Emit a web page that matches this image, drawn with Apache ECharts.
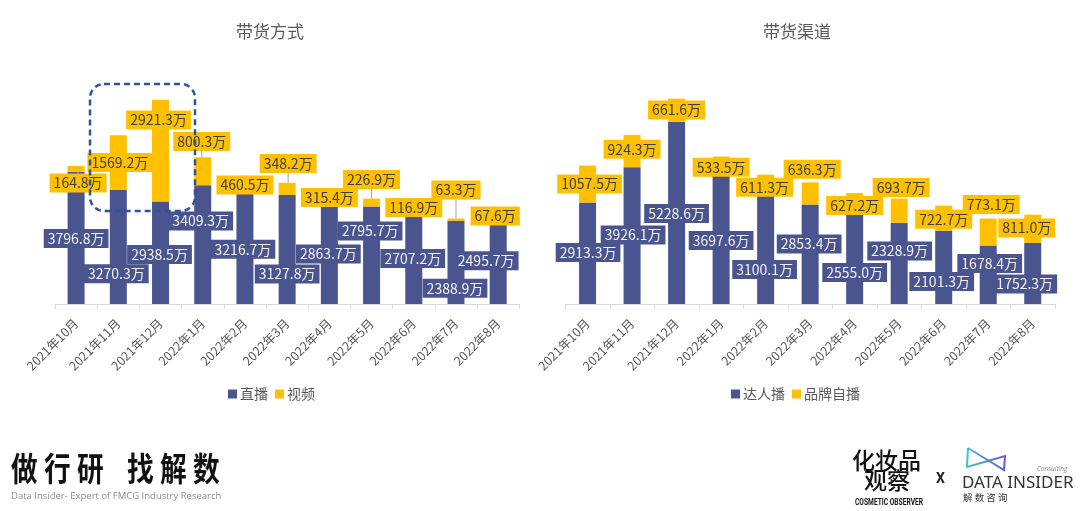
<!DOCTYPE html>
<html><head><meta charset="utf-8">
<script src="https://cdn.jsdelivr.net/npm/echarts@6/dist/echarts.min.js"></script>
<style>html,body{margin:0;padding:0;background:#fff}#c{width:1080px;height:511px}</style>
</head><body><div id="c"></div>
<script>
// ---- data ----
const months = ['2021年10月','2021年11月','2021年12月','2022年1月','2022年2月','2022年3月','2022年4月','2022年5月','2022年6月','2022年7月','2022年8月'];
const liveValues  = [3796.8,3270.3,2938.5,3409.3,3216.7,3127.8,2863.7,2795.7,2707.2,2388.9,2495.7];
const videoValues = [164.8,1569.2,2921.3,800.3,460.5,348.2,315.4,226.9,116.9,63.3,67.6];
const kolValues   = [2913.3,3926.1,5228.6,3697.6,3100.1,2853.4,2555.0,2328.9,2101.3,1678.4,1752.3];
const brandValues = [1057.5,924.3,661.6,533.5,611.3,636.3,627.2,693.7,722.7,773.1,811.0];
const leftSeriesNames = ['直播','视频'];
const rightSeriesNames = ['达人播','品牌自播'];
const titles = ['带货方式','带货渠道'];

// ---- label placement (manual, like the source chart): rise above axis in px, x shift in px ----
const labelRise = [
  [65.5,30.3,49.5,83,54.7,30,50,73,45.5,15.7,43.2],
  [121,141.5,184,162.5,119,140.5,106.5,124.5,96.5,114,88],
  [51.5,69,90.5,63.5,34.5,60,31.5,53,22.5,40.5,20],
  [120,154.7,194,136.7,116.7,134.8,98.5,116.5,84.8,99.5,76]
];
const labelShift = [
  [0,-2,-1,-2,-2,0,-1,-1.5,-1,-1,-12],
  [2,1.5,-2,-1,0,1,0,0,0,0,-3],
  [0.5,1,0,0,-1,-1,0,0.5,-2,1.5,-8],
  [2,0,0,0,-1,2,0,2,0,3,-6]
];

const BLUE = '#4A5590', GOLD = '#FFC000';
const FONT = '"Noto Sans CJK SC","Microsoft YaHei",sans-serif';
const H = 511, GRID_BOTTOM = 207, BASE = H - GRID_BOTTOM;

function lab(dark){
  return {
    show: true, position: 'inside',
    formatter: p => p.value.toFixed(1) + '万',
    fontSize: 14, lineHeight: 15, fontFamily: FONT,
    color: dark ? '#404040' : '#f2f2f2',
    backgroundColor: dark ? GOLD : BLUE,
    padding: [2,4]
  };
}
function layoutFor(si){
  return function(params){
    const i = params.dataIndex;
    return {
      x: params.rect.x + params.rect.width/2 + labelShift[si][i],
      y: BASE - labelRise[si][i],
      align: 'center', verticalAlign: 'middle'
    };
  };
}
function xAxis(gi){
  return {
    type: 'category', gridIndex: gi, data: months,
    axisLine: {lineStyle: {color: '#d9d9d9'}},
    axisTick: {show: true, length: 5, lineStyle: {color: '#d9d9d9'}},
    axisLabel: {rotate: 45, fontSize: 12.5, color: '#595959', margin: 17, fontFamily: FONT, interval: 0}
  };
}
function yAxis(gi){
  return {type: 'value', gridIndex: gi, min: 0, max: 7000, show: false, splitLine: {show: false}};
}

const chart = echarts.init(document.getElementById('c'), null, {renderer: 'canvas'});

const footer = [];
const slogan1 = '做行研', slogan2 = '找解数';
for (let i = 0; i < 3; i++) {
  footer.push({type:'text', left: 11 + i*33, top: 452, scaleX: 0.92, scaleY: 1.14,
    style:{text: slogan1[i], fill: '#111', font: 'bold 29px "Noto Sans CJK SC"'}});
  footer.push({type:'text', left: 127 + i*33, top: 452, scaleX: 0.92, scaleY: 1.14,
    style:{text: slogan2[i], fill: '#111', font: 'bold 29px "Noto Sans CJK SC"'}});
}
footer.push({type:'text', left: 11, top: 491, style:{text:'Data Insider- Expert of FMCG Industry Research', font:'9.5px "Open Sans"', fill:'#8c8c8c'}});
footer.push({type:'text', left: 852, top: 449, style:{text:'化妆品', font:'500 23px "Noto Sans CJK SC"', fill:'#111'}});
footer.push({type:'text', left: 864, top: 469, style:{text:'观察', font:'500 23px "Noto Sans CJK SC"', fill:'#111'}});
footer.push({type:'text', left: 855, top: 498, scaleX: 0.74, style:{text:'COSMETIC OBSERVER', font:'bold 9px Roboto', fill:'#111'}});
footer.push({type:'text', left: 936, top: 472, style:{text:'X', font:'bold 14px Roboto', fill:'#222'}});
footer.push({type:'text', left: 962, top: 475, style:{text:'DATA INSIDER', font:'17px "Noto Sans"', fill:'#333'}});
footer.push({type:'text', left: 963, top: 493, style:{text:'解 数 咨 询', font:'9.5px "Noto Sans CJK SC"', fill:'#333'}});
footer.push({type:'text', left: 1037, top: 466, style:{text:'Consulting', font:'italic 6.5px "Open Sans"', fill:'#888'}});
footer.push({type:'polyline', shape:{points:[[968,448],[1004,470],[1005,456],[967,467],[968,448]]},
  style:{fill:'none', lineWidth:2, stroke:new echarts.graphic.LinearGradient(0,0,1,0,[{offset:0,color:'#3ccbc4'},{offset:1,color:'#6a4fd6'}])}});
footer.push({type:'rect', z: 100, shape:{x:90, y:84, width:105, height:127, r:14},
  style:{fill:'none', stroke:'#2F5597', lineWidth:2.5, lineDash:[6,4]}});

chart.setOption({
  animation: false,
  backgroundColor: '#fff',
  title: [
    {text: titles[0], left: 231, top: 18, textStyle:{fontSize:17, fontWeight:'normal', color:'#595959', fontFamily: FONT}},
    {text: titles[1], left: 758, top: 18, textStyle:{fontSize:17, fontWeight:'normal', color:'#595959', fontFamily: FONT}}
  ],
  legend: [
    {data: leftSeriesNames, left: 223, top: 382, icon: 'rect', itemWidth: 9, itemHeight: 9, itemGap: 7,
     textStyle:{fontSize:14, color:'#595959', fontFamily: FONT, padding:[0,0,0,-2]}},
    {data: rightSeriesNames, left: 726, top: 382, icon: 'rect', itemWidth: 9, itemHeight: 9, itemGap: 7,
     textStyle:{fontSize:14, color:'#595959', fontFamily: FONT, padding:[0,0,0,-2]}}
  ],
  grid: [
    {left: 55, width: 464.3, top: 60, bottom: GRID_BOTTOM},
    {left: 565.3, width: 489.7, top: 60, bottom: GRID_BOTTOM}
  ],
  xAxis: [xAxis(0), xAxis(1)],
  yAxis: [yAxis(0), yAxis(1)],
  series: [
    {name: leftSeriesNames[0], type:'bar', stack:'L', xAxisIndex:0, yAxisIndex:0, barWidth:17, data: liveValues,
     itemStyle:{color: BLUE}, label: lab(false), labelLayout: layoutFor(0), z: 2},
    {name: leftSeriesNames[1], type:'bar', stack:'L', xAxisIndex:0, yAxisIndex:0, barWidth:17, data: videoValues,
     itemStyle:{color: GOLD}, label: lab(true), labelLayout: layoutFor(1),
     labelLine:{show:true, lineStyle:{color:'#a6a6a6', width:1}}, z: 3},
    {name: rightSeriesNames[0], type:'bar', stack:'R', xAxisIndex:1, yAxisIndex:1, barWidth:17, data: kolValues,
     itemStyle:{color: BLUE}, label: lab(false), labelLayout: layoutFor(2), z: 2},
    {name: rightSeriesNames[1], type:'bar', stack:'R', xAxisIndex:1, yAxisIndex:1, barWidth:17, data: brandValues,
     itemStyle:{color: GOLD}, label: lab(true), labelLayout: layoutFor(3), z: 3}
  ],
  graphic: footer
});
</script></body></html>
